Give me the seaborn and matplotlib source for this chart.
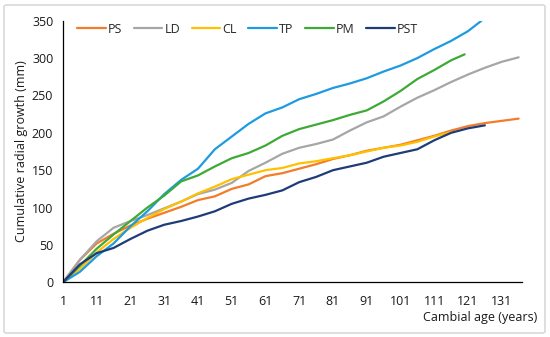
import matplotlib
matplotlib.use("Agg")
import matplotlib.pyplot as plt
import seaborn as sns
import pandas as pd
from matplotlib.patches import FancyBboxPatch

# ---- data (every 5 cambial years) ----
ages_ps = [1, 6, 11, 16, 21, 26, 31, 36, 41, 46, 51, 56, 61, 66, 71, 76, 81, 86, 91, 96, 101, 106, 111, 116, 121, 126, 131, 136]
ps = [0, 30, 52, 65, 76, 85, 93, 101, 110, 115, 125, 131, 142, 146, 152, 158, 165, 170, 176, 180, 184, 190, 196, 203, 209, 213, 216, 219]

ages_ld = [1, 6, 11, 16, 21, 26, 31, 36, 41, 46, 51, 56, 61, 66, 71, 76, 81, 86, 91, 96, 101, 106, 111, 116, 121, 126, 131, 136]
ld = [0, 30, 55, 73, 82, 90, 99, 108, 118, 124, 133, 149, 160, 172, 180, 185, 191, 203, 214, 222, 235, 247, 257, 268, 278, 287, 295, 301]

ages_cl = [1, 6, 11, 16, 21, 26, 31, 36, 41, 46, 51, 56, 61, 66, 71, 76, 81, 86, 91, 96, 101, 106, 111, 116]
cl = [0, 18, 40, 58, 73, 86, 98, 108, 119, 128, 138, 144, 150, 153, 159, 162, 166, 170, 175, 180, 183, 188, 195, 201]

ages_tp = [1, 6, 11, 16, 21, 26, 31, 36, 41, 46, 51, 56, 61, 66, 71, 76, 81, 86, 91, 96, 101, 106, 111, 116, 121, 125]
tp = [0, 14, 35, 52, 75, 95, 118, 137, 152, 178, 195, 212, 226, 234, 245, 252, 260, 266, 273, 282, 290, 300, 312, 323, 336, 350]

ages_pm = [1, 6, 11, 16, 21, 26, 31, 36, 41, 46, 51, 56, 61, 66, 71, 76, 81, 86, 91, 96, 101, 106, 111, 116, 120]
pm = [0, 22, 45, 64, 82, 100, 116, 135, 143, 155, 166, 173, 183, 196, 205, 211, 217, 224, 230, 242, 256, 272, 284, 297, 305]

ages_pst = [1, 6, 11, 16, 21, 26, 31, 36, 41, 46, 51, 56, 61, 66, 71, 76, 81, 86, 91, 96, 101, 106, 111, 116, 121, 126]
pst = [0, 24, 39, 46, 58, 69, 77, 82, 88, 95, 105, 112, 117, 123, 134, 141, 150, 155, 160, 168, 173, 178, 190, 200, 206, 210]

series = {"PS": (ages_ps, ps), "LD": (ages_ld, ld), "CL": (ages_cl, cl),
          "TP": (ages_tp, tp), "PM": (ages_pm, pm), "PST": (ages_pst, pst)}
colors = {"PS": "#F47B2A", "LD": "#A6A6A6", "CL": "#FFC000",
          "TP": "#1E9BDE", "PM": "#3DAA35", "PST": "#1F3C78"}

rows = []
for name, (xs, ys) in series.items():
    for x, y in zip(xs, ys):
        rows.append({"age": x, "growth": y, "species": name})
df = pd.DataFrame(rows)

sns.set_style("white")
plt.rcParams["font.family"] = ["Open Sans", "DejaVu Sans"]
plt.rcParams["font.size"] = 9

fig = plt.figure(figsize=(5.5, 3.37), dpi=100)
ax = fig.add_axes([63 / 550, 1 - 282.3 / 337, (522 - 63) / 550, (282.3 - 20.7) / 337])

sns.lineplot(data=df, x="age", y="growth", hue="species", palette=colors,
             hue_order=list(series.keys()), linewidth=1.6, ax=ax)

ax.set_xlim(1, 137)
ax.set_ylim(0, 350)
ax.set_xticks(range(1, 132, 10))
ax.set_yticks(range(0, 351, 50))
for s in ["top", "right"]:
    ax.spines[s].set_visible(False)
for s in ["left", "bottom"]:
    ax.spines[s].set_color("black")
    ax.spines[s].set_linewidth(0.9)
ax.tick_params(axis="both", direction="out", length=4, width=0.9, color="black",
               labelsize=9, labelcolor="#1a1a1a", pad=3)
ax.tick_params(axis="x", pad=5)

ax.set_ylabel("Cumulative radial growth (mm)", fontsize=9, color="#1a1a1a", labelpad=3)
ax.set_xlabel("")
fig.text(537 / 550, 1 - 318 / 337, "Cambial age (years)", ha="right", va="center",
         fontsize=9, color="#1a1a1a")

leg = ax.legend(loc="center left", bbox_to_anchor=(14 / 459, 1 - 8.6 / 261.6), ncol=6,
                frameon=False, handlelength=2.3, handletextpad=0.18, columnspacing=0.9,
                fontsize=9, borderaxespad=0, borderpad=0)
for line in leg.get_lines():
    line.set_linewidth(1.6)

# light frame around the figure
frame = FancyBboxPatch((4 / 550, 4 / 337), 541 / 550, 328 / 337,
                       boxstyle="round,pad=0,rounding_size=0.005",
                       transform=fig.transFigure, fill=False,
                       edgecolor="#D9D9D9", linewidth=1.2)
fig.patches.append(frame)

fig.savefig("out.png", dpi=100)
